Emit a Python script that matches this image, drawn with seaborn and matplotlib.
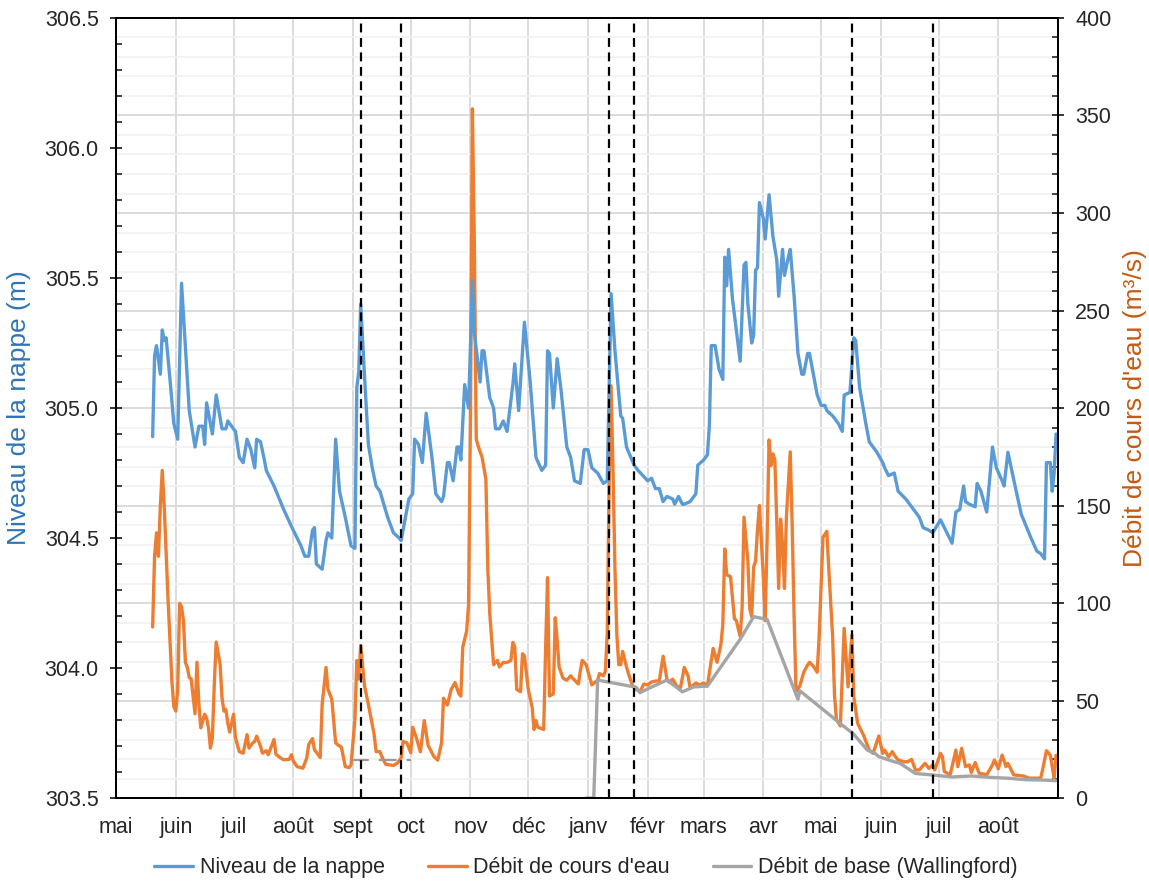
import pandas as pd
import seaborn as sns
import matplotlib.pyplot as plt
from matplotlib.ticker import MultipleLocator, FormatStrFormatter

# -------------------------------
# DATA (day numbers counted from start_date)
# -------------------------------
start_date = "2015-05-01"
end_date = "2016-09-01"
month_labels = ["mai", "juin", "juil", "août", "sept", "oct", "nov", "déc",
                "janv", "févr", "mars", "avr", "mai", "juin", "juil", "août"]

# Niveau de la nappe (m)
gw_days = [19, 20, 21, 23, 24, 25, 26, 28, 30, 32,
           34, 38, 41, 43, 45, 46, 47, 48, 50, 52,
           55, 57, 58, 62, 64, 66, 68, 70, 72, 73,
           75, 77, 78, 82, 87, 92, 96, 98, 100, 102,
           103, 104, 107, 109, 110, 112, 114, 116, 119, 122,
           124, 125, 126, 127, 129, 131, 133, 135, 137, 141,
           144, 147, 148, 150, 152, 154, 155, 157, 159, 161,
           164, 166, 169, 170, 172, 173, 175, 177, 178, 179,
           181, 183, 185, 186, 189, 190, 191, 194, 196, 197,
           199, 201, 203, 206, 207, 209, 212, 215, 218, 221,
           223, 224, 225, 227, 229, 231, 234, 236, 238, 241,
           243, 245, 247, 250, 253, 255, 256, 257, 259, 262,
           263, 265, 269, 271, 276, 278, 280, 282, 284, 286,
           289, 290, 292, 294, 295, 298, 301, 302, 305, 307,
           308, 309, 311, 313, 315, 316, 317, 318, 320, 322,
           324, 326, 327, 328, 330, 331, 332, 333, 334, 336,
           337, 339, 341, 343, 344, 346, 347, 349, 350, 352,
           354, 356, 357, 359, 360, 362, 364, 366, 368, 369,
           372, 375, 377, 378, 381, 383, 384, 386, 389, 391,
           395, 398, 399, 401, 404, 406, 410, 413, 417, 419,
           422, 424, 428, 430, 432, 434, 436, 438, 440, 441,
           443, 446, 447, 449, 452, 455, 457, 460, 461, 463,
           467, 470, 475, 478, 480, 482, 483, 485, 486, 487,
           488]
gw_level = [304.89, 305.20, 305.24, 305.13, 305.30, 305.26, 305.27, 305.11, 304.94, 304.88,
            305.48, 304.99, 304.85, 304.93, 304.93, 304.86, 305.02, 304.98, 304.90, 305.05,
            304.92, 304.92, 304.95, 304.91, 304.81, 304.79, 304.88, 304.84, 304.77, 304.88,
            304.87, 304.80, 304.76, 304.70, 304.61, 304.53, 304.47, 304.43, 304.43, 304.53,
            304.54, 304.40, 304.38, 304.49, 304.52, 304.50, 304.88, 304.68, 304.58, 304.47,
            304.46, 305.08, 305.14, 305.40, 305.12, 304.86, 304.77, 304.70, 304.68, 304.58,
            304.52, 304.50, 304.49, 304.57, 304.65, 304.67, 304.88, 304.86, 304.79, 304.98,
            304.81, 304.67, 304.64, 304.66, 304.79, 304.79, 304.72, 304.85, 304.85, 304.80,
            305.09, 305.00, 305.49, 305.29, 305.10, 305.22, 305.22, 305.04, 305.00, 304.92,
            304.92, 304.95, 304.91, 305.09, 305.17, 304.99, 305.33, 305.10, 304.81, 304.76,
            304.78, 305.22, 305.21, 305.00, 305.19, 305.07, 304.85, 304.81, 304.72, 304.71,
            304.84, 304.84, 304.77, 304.75, 304.71, 304.72, 305.09, 305.44, 305.22, 304.97,
            304.96, 304.85, 304.78, 304.76, 304.72, 304.73, 304.69, 304.69, 304.64, 304.66,
            304.65, 304.63, 304.66, 304.63, 304.63, 304.64, 304.67, 304.78, 304.80, 304.82,
            304.93, 305.24, 305.24, 305.15, 305.11, 305.58, 305.47, 305.61, 305.42, 305.30,
            305.18, 305.55, 305.56, 305.40, 305.25, 305.28, 305.53, 305.54, 305.79, 305.73,
            305.65, 305.82, 305.66, 305.57, 305.43, 305.61, 305.51, 305.58, 305.61, 305.43,
            305.21, 305.13, 305.13, 305.21, 305.21, 305.13, 305.05, 305.01, 305.01, 304.99,
            304.97, 304.94, 304.91, 305.05, 305.06, 305.27, 305.26, 305.08, 304.95, 304.87,
            304.83, 304.79, 304.77, 304.74, 304.75, 304.68, 304.65, 304.62, 304.58, 304.54,
            304.53, 304.52, 304.57, 304.54, 304.51, 304.48, 304.60, 304.61, 304.70, 304.64,
            304.63, 304.62, 304.71, 304.68, 304.60, 304.85, 304.77, 304.72, 304.70, 304.83,
            304.69, 304.59, 304.50, 304.45, 304.44, 304.42, 304.79, 304.79, 304.68, 304.75,
            304.90]

# Débit de cours d'eau (m3/s)
flow_days = [19, 20, 21, 22, 23, 24, 25, 27, 29, 30,
             31, 32, 33, 34, 35, 36, 37, 38, 39, 41,
             42, 43, 44, 46, 47, 48, 49, 50, 51, 52,
             54, 55, 56, 57, 58, 59, 61, 62, 64, 66,
             68, 69, 71, 72, 73, 75, 76, 78, 79, 80,
             82, 83, 85, 87, 90, 91, 92, 94, 97, 99,
             100, 102, 103, 106, 107, 109, 110, 112, 114, 115,
             117, 119, 121, 122, 124, 125, 126, 127, 129, 131,
             134, 135, 137, 138, 140, 144, 146, 148, 149, 151,
             153, 154, 156, 158, 160, 162, 165, 167, 169, 170,
             172, 174, 176, 178, 179, 180, 182, 183, 184, 185,
             186, 187, 188, 190, 192, 193, 194, 196, 198, 199,
             201, 203, 205, 206, 207, 208, 210, 211, 212, 214,
             216, 217, 218, 219, 221, 222, 223, 224, 225, 227,
             228, 229, 230, 232, 234, 236, 237, 240, 241, 242,
             244, 246, 247, 250, 251, 253, 254, 255, 256, 257,
             258, 259, 260, 261, 262, 263, 265, 266, 268, 270,
             272, 274, 276, 278, 280, 282, 284, 286, 287, 289,
             291, 293, 295, 297, 298, 301, 303, 305, 307, 309,
             310, 312, 314, 315, 316, 317, 319, 321, 322, 324,
             325, 326, 328, 329, 330, 331, 332, 333, 334, 336,
             337, 338, 339, 340, 341, 342, 343, 344, 345, 346,
             347, 348, 350, 351, 352, 353, 355, 357, 359, 360,
             362, 364, 365, 367, 369, 370, 372, 373, 374, 376,
             378, 380, 382, 383, 385, 388, 391, 393, 396, 398,
             399, 401, 403, 404, 406, 409, 411, 413, 415, 417,
             420, 422, 424, 425, 428, 429, 430, 433, 436, 437,
             439, 441, 443, 444, 446, 448, 452, 455, 456, 458,
             460, 462, 463, 466, 471, 474, 480, 481, 483, 485,
             487, 488]
flow = [87.7, 124, 136, 124, 150, 168, 150, 101.6, 60, 47,
        44.6, 55, 99.8, 98, 91, 69.6, 67, 61.8, 61, 43.2,
        69.6, 48, 36, 43, 41, 36, 25.6, 30.8, 58.4, 80,
        68.7, 51.5, 44.6, 45.5, 38.5, 33.8, 43, 30.8, 23.8, 23,
        32.5, 25.6, 28.3, 29, 31.7, 26.5, 23, 24.3, 22.2, 24.8,
        30, 22.5, 20.8, 19.6, 19.9, 22.2, 19, 16.1, 15.3, 20.5,
        27.4, 30.5, 24.8, 20.8, 48, 67, 55.8, 50.7, 28.3, 27.4,
        26, 16.1, 15.6, 17, 40.2, 70.5, 61, 78.3, 57.5, 48,
        32.5, 23.8, 23.8, 21.2, 17.3, 16.7, 17.9, 20.5, 29, 28.3,
        23.2, 36.3, 30.6, 23.7, 39.7, 27, 21.3, 19.4, 28.3, 51.2,
        47.7, 55.7, 59.2, 53.4, 52.3, 77.5, 85.5, 99.2, 197.7, 353.4,
        284.7, 184, 180.5, 174.8, 163.4, 117.6, 94.7, 68.4, 70.6, 67.2,
        69.5, 69.5, 70.6, 79.8, 77.5, 55.7, 54.5, 74, 72.9, 55.7,
        46.6, 35.1, 39.7, 36.3, 35.6, 35.1, 76.3, 113, 52.3, 53.4,
        92.4, 81, 67.2, 61.5, 60.4, 62.7, 61.5, 58.5, 64.9, 70.6,
        68.4, 61.5, 58, 60.4, 63.8, 62.7, 64.9, 84.4, 163.4, 211.4,
        168, 117.6, 83.3, 68.4, 68.4, 75.2, 67.2, 63.8, 58, 55.7,
        54.5, 58.5, 58, 59.5, 60, 60, 72.7, 60.9, 59.5, 60.9,
        57.5, 56.5, 67, 62.5, 56.5, 59, 58, 59, 57.5, 70.6,
        76.7, 69.6, 78.7, 88.9, 127.7, 114.5, 113.5, 92, 91, 82.9,
        97.1, 144, 121.5, 97.1, 93, 118.5, 121.5, 137.8, 150, 113.5,
        91, 133.7, 183.6, 170.4, 176.5, 173.5, 142, 107.5, 143, 129.7,
        107.5, 144, 177.5, 140, 93, 54.5, 57.5, 64.5, 68.2, 69.6,
        67.6, 64.5, 82.9, 133.7, 136.8, 117.5, 82.9, 52.4, 40.2, 37,
        87, 57, 83.6, 52, 38.3, 32.3, 24.6, 22.9, 31.8, 22.9,
        24.6, 21.2, 23.8, 22, 19.5, 18.6, 18.6, 19.8, 14.4, 14.4,
        17.8, 15.2, 17, 14.4, 22.9, 21.2, 13.6, 11.9, 24.6, 16.1,
        25.5, 16.1, 17, 13.1, 18.2, 12.8, 11.9, 17, 19.5, 15,
        22, 16.1, 17.8, 11.9, 11.3, 10.2, 10.2, 14.4, 24.3, 22,
        10.2, 22]

# Débit de base (Wallingford), m3/s
base_days = [244, 248, 250, 270, 272, 276, 286, 294, 300, 307,
             324, 331, 338, 354, 355, 377, 383, 390, 394, 396,
             404, 407, 415, 424, 434, 444, 454, 464, 472, 482,
             488]
base_flow = [0, 0, 60.5, 56.8, 54, 56, 60.5, 54.5, 57, 57.4,
             81.4, 93, 91.6, 50.6, 55, 37.4, 32.7, 24.6, 22.9, 21.2,
             18.6, 17.8, 12.6, 11.8, 10.8, 11.3, 10.6, 10.1, 9.4, 9.2,
             8.9]

# short base-flow estimate in September (grey dashes)
sept_base_dates = ["2015-08-31", "2015-10-01"]
sept_base_value = 19.5

# dates of the dashed vertical markers
event_dates = ["2015-09-05", "2015-09-26", "2016-01-12",
               "2016-01-25", "2016-05-17", "2016-06-28"]

# -------------------------------
# PREPARE FRAMES
# -------------------------------
t0 = pd.Timestamp(start_date)
gw_df = pd.DataFrame({"date": t0 + pd.to_timedelta(gw_days, unit="D"), "level": gw_level})
flow_df = pd.DataFrame({"date": t0 + pd.to_timedelta(flow_days, unit="D"), "flow": flow})
base_df = pd.DataFrame({"date": t0 + pd.to_timedelta(base_days, unit="D"), "flow": base_flow})
month_ticks = pd.date_range(start_date, periods=len(month_labels), freq="MS")

# -------------------------------
# PLOT
# -------------------------------
sns.set_style("white")
plt.rcParams["font.family"] = ["Liberation Sans", "DejaVu Sans"]

blue, orange, grey = "#5B9BD5", "#ED7D31", "#A5A5A5"

fig = plt.figure(figsize=(11.49, 8.82), dpi=100)
ax = fig.add_axes([0.101, 0.0952, 0.8198, 0.8844])
ax2 = ax.twinx()

# right axis (flows) sits below so its grid stays behind everything
ax.set_zorder(2)
ax2.set_zorder(1)
ax.patch.set_visible(False)
ax2.patch.set_visible(True)
ax2.patch.set_facecolor("white")

sns.lineplot(data=flow_df, x="date", y="flow", ax=ax2, color=orange, linewidth=2.4,
             estimator=None, sort=False, legend=False)
flow_line = ax2.lines[-1]
sns.lineplot(data=base_df, x="date", y="flow", ax=ax2, color=grey, linewidth=2.4,
             estimator=None, sort=False, legend=False)
base_line = ax2.lines[-1]
ax2.plot(pd.to_datetime(sept_base_dates), [sept_base_value] * 2, color="#999999",
         linewidth=1.6, linestyle=(0, (8, 4.5)))

sns.lineplot(data=gw_df, x="date", y="level", ax=ax, color=blue, linewidth=2.4,
             estimator=None, sort=False, legend=False)
gw_line = ax.lines[-1]

for d in event_dates:
    ax.axvline(pd.Timestamp(d), color="black", linewidth=1.6, linestyle=(0, (4, 2.5)))

# axes limits and ticks
ax.set_xlim(t0, pd.Timestamp(end_date))
ax.set_xticks(month_ticks)
ax.set_xticklabels(month_labels)
ax.set_ylim(303.5, 306.5)
ax.yaxis.set_major_locator(MultipleLocator(0.5))
ax.yaxis.set_minor_locator(MultipleLocator(0.1))
ax.yaxis.set_major_formatter(FormatStrFormatter("%.1f"))
ax2.set_ylim(0, 400)
ax2.yaxis.set_major_locator(MultipleLocator(50))
ax2.yaxis.set_minor_locator(MultipleLocator(10))

ax.tick_params(axis="x", length=0, labelsize=15.5, pad=14)
ax.tick_params(axis="y", which="major", direction="inout", length=9, width=1.3,
               labelsize=15.5, pad=8)
ax.tick_params(axis="y", which="minor", direction="in", length=4.5, width=1.2)
ax2.tick_params(axis="y", which="major", direction="inout", length=9, width=1.3,
                labelsize=15.5, pad=8)
ax2.tick_params(axis="y", which="minor", direction="in", length=4.5, width=1.2)

# grid on the flow axis (below the lines)
ax2.xaxis.set_visible(True)
ax2.tick_params(axis="x", length=0, labelbottom=False)
ax2.set_xlabel("")
ax2.grid(True, which="major", axis="both", color="#D9D9D9", linewidth=1.3)
ax2.grid(True, which="minor", axis="y", color="#F2F2F2", linewidth=1.3)
ax2.set_axisbelow(True)
ax.grid(False)

for a in (ax, ax2):
    for s in a.spines.values():
        s.set_color("black")
        s.set_linewidth(1.4)

ax.set_xlabel("")
ax.set_ylabel("Niveau de la nappe (m)", color="#2E75B6", fontsize=19, labelpad=10)
ax2.set_ylabel("Débit de cours d'eau (m³/s)", color="#C55A11", fontsize=19, labelpad=8)

fig.legend([gw_line, flow_line, base_line],
           ["Niveau de la nappe", "Débit de cours d'eau", "Débit de base (Wallingford)"],
           loc="center", bbox_to_anchor=(0.51, 0.016), ncol=3, frameon=False,
           fontsize=15.5, handlelength=1.8, handletextpad=0.3, columnspacing=2.0)

fig.savefig("out.png", dpi=100)
